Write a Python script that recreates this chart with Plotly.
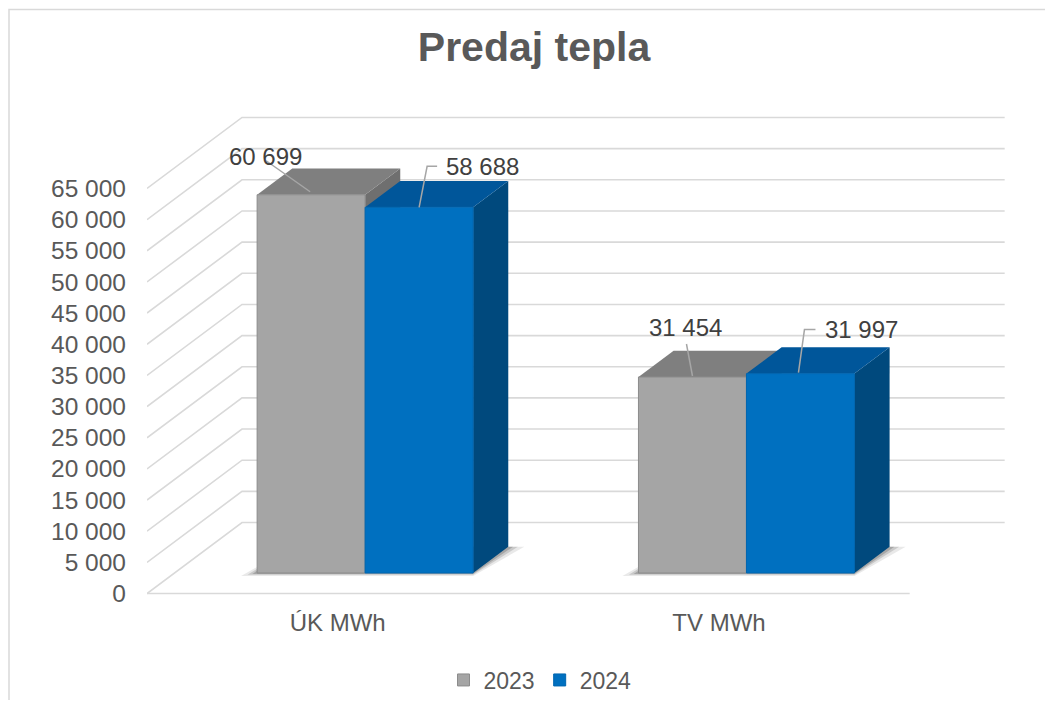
import plotly.graph_objects as go

categories = ["ÚK MWh", "TV MWh"]
series_names = ["2023", "2024"]
values_2023 = [60699, 31454]
values_2024 = [58688, 31997]
tick_values = list(range(0, 65001, 5000))
tick_labels = [f"{v:,}".replace(",", " ") for v in tick_values]

# ---- styling / geometry (pseudo-3D) ----
PAGE = 8                          # browser body margin
W, H = 1053 - 2 * PAGE, 708 - 2 * PAGE
ML = 147 - PAGE
MT = 95 - PAGE
MR = W - (1005 - PAGE)
MB = H - (606 - PAGE)
XMAX = 2.25
YMIN, YMAX = -2000, 80000
px_per_x = (W - ML - MR) / XMAX
px_per_y = (H - MT - MB) / (YMAX - YMIN)

WALL_DX = 95 / px_per_x          # depth of the back wall (x units)
WALL_DY = 71 / px_per_y          # depth of the back wall (y units)
F0 = 0.289                       # bar front position as fraction of depth
FB = 0.37                        # bar depth as fraction of depth
BAR_W = 108 / px_per_x

face = {"2023": "#A5A5A5", "2024": "#0070C0"}
top_c = {"2023": "#7F7F7F", "2024": "#00569A"}
side_c = {"2023": "#6F6F6F", "2024": "#00497D"}
edge_c = {"2023": "#8C8C8C", "2024": "#0066B0"}

dx0, dy0 = F0 * WALL_DX, F0 * WALL_DY
bdx, bdy = FB * WALL_DX, FB * WALL_DY

grid_col = "#D9D9D9"
text_col = "#595959"
FONT = "Liberation Sans, Arial, sans-serif"

fig = go.Figure()
shapes = []

# gridlines: side wall (slanted) + back wall
for v in tick_values:
    shapes.append(dict(type="path", xref="x", yref="y", layer="below",
                       path=f"M 0,{v} L {WALL_DX},{v + WALL_DY} L {2 + WALL_DX},{v + WALL_DY}",
                       line=dict(color=grid_col, width=1.6)))
# floor front edge
shapes.append(dict(type="line", xref="x", yref="y", layer="below",
                   x0=0, y0=0, x1=2, y1=0, line=dict(color=grid_col, width=1.6)))

series = {"2023": values_2023, "2024": values_2024}
offsets = {"2023": -BAR_W, "2024": 0.0}
centers = [i + 0.5 + dx0 for i in range(len(categories))]

# soft floor shadows under each bar pair
for c in centers:
    x0 = c - BAR_W
    x1 = c + BAR_W
    for k, alpha in [(1.0, 0.10), (0.6, 0.16), (0.3, 0.22)]:
        s = (3.0 * k) / px_per_y
        e = (16 * k) / px_per_x
        shapes.append(dict(type="path", xref="x", yref="y", layer="below",
                           path=(f"M {x0 - e},{dy0 - s} L {x1},{dy0 - s} "
                                 f"L {x1 + bdx + e},{dy0 + bdy} L {x0 + bdx},{dy0 + bdy} Z"),
                           fillcolor=f"rgba(40,40,40,{alpha})", line=dict(width=0)))

# top and side faces
for name in series_names:
    for c, v in zip(centers, series[name]):
        x0 = c + offsets[name]
        x1 = x0 + BAR_W
        top = dy0 + v
        shapes.append(dict(type="path", xref="x", yref="y", layer="below",
                           path=(f"M {x1},{dy0} L {x1 + bdx},{dy0 + bdy} "
                                 f"L {x1 + bdx},{top + bdy} L {x1},{top} Z"),
                           fillcolor=side_c[name], line=dict(width=0)))
        shapes.append(dict(type="path", xref="x", yref="y", layer="below",
                           path=(f"M {x0},{top} L {x1},{top} "
                                 f"L {x1 + bdx},{top + bdy} L {x0 + bdx},{top + bdy} Z"),
                           fillcolor=top_c[name], line=dict(width=0)))

# front faces as bars
for name in series_names:
    fig.add_trace(go.Bar(
        name=name, x=centers, y=series[name], base=[dy0] * len(centers),
        width=BAR_W, offset=offsets[name],
        marker=dict(color=face[name], line=dict(color=edge_c[name], width=1)),
        hoverinfo="skip"))

# data labels with leader lines (offsets in pixels, y up)
label_style = {
    ("2023", 0): dict(path="M -1,3 L -45,34", tx=-46, ty=38, anchor="center"),
    ("2024", 0): dict(path="M 0,0 L 8,41 L 18,41", tx=25, ty=41, anchor="left"),
    ("2023", 1): dict(path="M 0,1 L -6,33", tx=-7, ty=50, anchor="center"),
    ("2024", 1): dict(path="M -2,1 L 4,44 L 15,44", tx=23, ty=44, anchor="left"),
}
annotations = []
for name in series_names:
    for i, (c, v) in enumerate(zip(centers, series[name])):
        xc = c + offsets[name] + BAR_W / 2
        top = dy0 + v
        st = label_style[(name, i)]
        shapes.append(dict(type="path", xref="x", yref="y", layer="above",
                           xsizemode="pixel", ysizemode="pixel",
                           xanchor=xc, yanchor=top, path=st["path"],
                           line=dict(color="#A6A6A6", width=1.5)))
        annotations.append(dict(x=xc, y=top, xref="x", yref="y", showarrow=False,
                                text=f"{v:,}".replace(",", " "),
                                xanchor=st["anchor"], yanchor="middle",
                                xshift=st["tx"], yshift=st["ty"],
                                font=dict(family=FONT, size=24, color="#404040")))

# chart frame (positions in screen pixels -> paper)
def px2paper_x(p):
    return (p - PAGE - ML) / (W - ML - MR)

def px2paper_y(p):
    return (H - MB - (p - PAGE)) / (H - MT - MB)

shapes.append(dict(type="rect", xref="paper", yref="paper", layer="below",
                   x0=px2paper_x(9), y0=px2paper_y(760), x1=px2paper_x(1100), y1=px2paper_y(9.5),
                   line=dict(color="#D9D9D9", width=1.5), fillcolor="rgba(0,0,0,0)"))

fig.update_layout(
    width=W, height=H,
    margin=dict(l=ML, r=MR, t=MT, b=MB),
    paper_bgcolor="white", plot_bgcolor="white",
    barmode="overlay",
    title=dict(text="<b>Predaj tepla</b>", x=(534 - PAGE) / W, xanchor="center",
               y=1 - (47 - PAGE) / H, yanchor="middle",
               font=dict(family=FONT, size=41, color=text_col)),
    xaxis=dict(range=[0, XMAX], tickvals=[i + 0.5 for i in range(len(categories))],
               ticktext=categories, showgrid=False, zeroline=False, showline=False,
               ticks="", tickfont=dict(family=FONT, size=24, color=text_col)),
    yaxis=dict(range=[YMIN, YMAX], tickvals=tick_values, ticktext=tick_labels,
               showgrid=False, zeroline=False, showline=False, ticks="",
               ticklabelstandoff=20,
               tickfont=dict(family=FONT, size=24.5, color=text_col)),
    legend=dict(orientation="h", xref="container", yref="container",
                x=(540 - PAGE) / W, xanchor="center", y=1 - (680 - PAGE) / H, yanchor="middle",
                font=dict(family=FONT, size=23, color=text_col),
                itemwidth=30, itemclick=False),
    shapes=shapes,
    annotations=annotations,
)

fig.write_html("out.html")
